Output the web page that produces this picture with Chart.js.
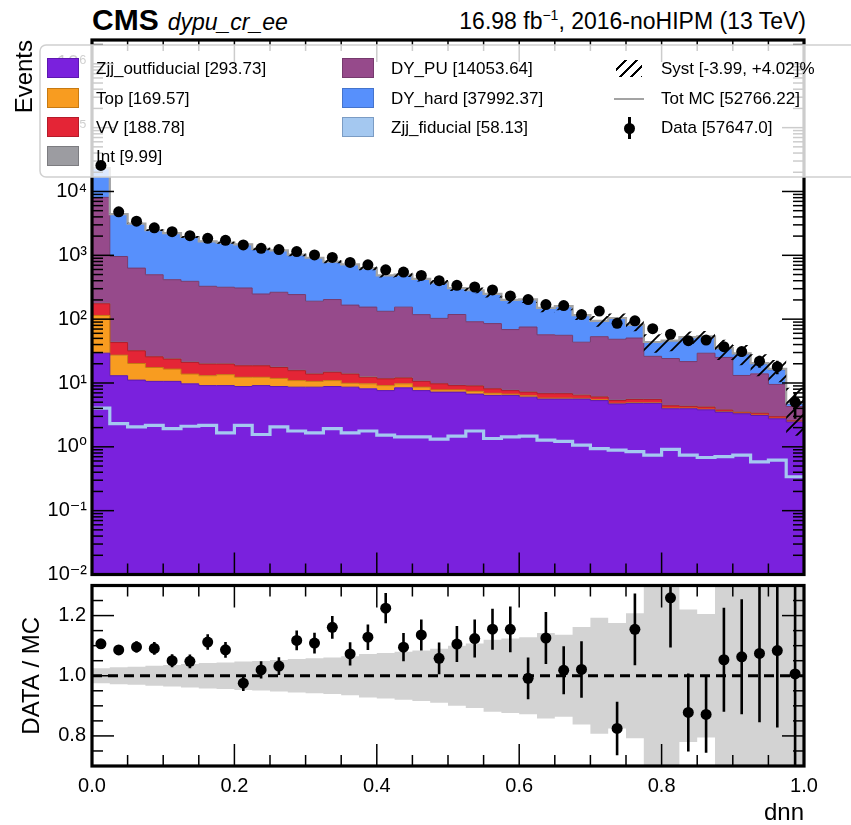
<!DOCTYPE html>
<html>
<head>
<meta charset="utf-8">
<script src="https://cdn.jsdelivr.net/npm/chart.js@4.4.1/dist/chart.umd.min.js"></script>
<style>
  html, body { margin: 0; padding: 0; background: #fff; }
  body { width: 851px; height: 825px; position: relative; overflow: hidden;
         font-family: "Liberation Sans", Arial, "DejaVu Sans", sans-serif; color: #000; }
  canvas { position: absolute; left: 0; }
  #main { top: 0; }
  #ratio { top: 580px; }
  #hdrL { position: absolute; left: 92px; top: 3px; white-space: nowrap; }
  #hdrL b { font-size: 30px; font-weight: bold; }
  #hdrL i { font-size: 23px; margin-left: 9px; }
  #hdrR { position: absolute; right: 45px; top: 7px; font-size: 23px; white-space: nowrap; }
  #hdrR sup { font-size: 14px; }
  /* box itself is painted on the canvas (under the data markers), this layer only holds text + glyphs */
  #legend { position: absolute; left: 40px; top: 45px; width: 860px; height: 132px; z-index: 5; font-size: 17px; }
  .item { position: absolute; height: 22px; line-height: 22px; white-space: nowrap; }
  .patch { position: absolute; top: 0; width: 32px; height: 20px; box-sizing: border-box; border: 1.5px solid; }
  .lbl { position: absolute; top: 0; }
</style>
</head>
<body>
<div id="hdrL"><b>CMS</b><i>dypu_cr_ee</i></div>
<div id="hdrR">16.98 fb<sup>−1</sup>, 2016-noHIPM (13 TeV)</div>
<canvas id="main" width="851" height="580"></canvas>
<canvas id="ratio" width="851" height="245"></canvas>
<div id="legend"></div>

<script>
// 40 bins in dnn, lower edges
const binLow = [0.000,0.025,0.050,0.075,0.100,0.125,0.150,0.175,0.200,0.225,
                0.250,0.275,0.300,0.325,0.350,0.375,0.400,0.425,0.450,0.475,
                0.500,0.525,0.550,0.575,0.600,0.625,0.650,0.675,0.700,0.725,
                0.750,0.775,0.800,0.825,0.850,0.875,0.900,0.925,0.950,0.975];

// stacked backgrounds (events per bin), bottom to top
const zjjOut = [29.3,13.0,11.1,10.6,10.6,9.7,9.1,9.1,8.8,9.1,8.8,8.6,8.6,8.8,8.6,8.1,7.6,8.4,7.6,7.2,
                7.2,6.7,6.4,6.4,6.0,5.6,5.6,5.6,5.3,4.7,4.8,4.8,3.95,3.95,3.8,3.5,3.3,3.1,2.75,2.45];
const topBkg = [85,14.3,9.1,6.9,5.9,4.1,3.9,4.4,3.5,3.2,3.0,2.3,2.0,2.1,1.3,1.6,1.5,1.3,1.0,0.6,
                0.6,0.7,0.5,0.3,0.3,0.2,0.2,0.15,0.15,0.12,0.12,0.1,0.1,0.1,0.1,0.08,0.08,0.06,0.06,0.05];
const vvBkg  = [60,15.7,11.7,8.2,7.2,7.2,6.8,6.3,6.3,6.3,5.7,4.7,3.2,3.8,3.9,2.6,2.5,2.3,2.0,1.9,
                1.3,1.6,1.2,0.9,0.9,1.0,1.0,0.7,0.6,0.5,0.6,0.6,0.35,0.25,0.3,0.2,0.1,0.2,0.15,0.05];
const intBkg = [3.5,0.6,0.45,0.4,0.35,0.3,0.3,0.28,0.26,0.25,0.24,0.22,0.2,0.2,0.18,0.17,0.16,0.15,0.14,0.13,
                0.12,0.12,0.11,0.1,0.1,0.09,0.09,0.08,0.08,0.07,0.07,0.06,0.06,0.05,0.05,0.05,0.04,0.04,0.03,0.03];
const dyPU   = [7900,915,598,470,391,370,307,296,289,229,246,227,177,188,152,142,121,142,107,93,
                109,82,77,61,68,50,49,37,47,43,45,20.6,19.7,17.3,25,21.3,9.6,10.5,6.5,1.7];
const dyHard = [15070,3460,2498,1977,1816,1544,1330,1264,1179,1015,926,780,723,592,553,473,350,343,307,274,
                187,191,162,130,128,92,103,71,40,55,30,17,21,30,24,9.3,15.3,6.0,6.5,0.35];
// signal drawn as a step line
const zjjFid = [4.05,2.31,2.05,2.17,1.93,2.1,2.17,1.65,2.17,1.56,2.05,1.77,1.65,1.93,1.65,1.77,1.52,1.43,1.43,1.32,
                1.47,1.77,1.35,1.43,1.47,1.27,1.22,1.06,0.94,0.89,0.84,0.74,0.91,0.74,0.68,0.7,0.74,0.58,0.62,0.34];
// observed data
const dataObs = [25610,4800,3430,2700,2345,2030,1845,1718,1452,1289,1230,1145,1015,925,773,710,593,546,484,400,
                 339,319,287,231,203,169,163,118,134,86,94,71,58,46,47,37,31,22,18,5];
// relative uncertainty of the MC per bin
const systRel = [0.025,0.028,0.03,0.033,0.036,0.039,0.042,0.044,0.047,0.049,0.052,0.056,0.058,0.061,0.065,0.072,0.076,0.08,0.084,0.09,
                 0.1,0.107,0.12,0.124,0.128,0.142,0.136,0.162,0.193,0.175,0.208,0.32,0.32,0.22,0.205,0.35,0.35,0.38,0.38,0.7];

// legend text as printed on the plot
const stackNames  = ['Zjj_outfiducial','Top','VV','Int','DY_PU','DY_hard'];
const stackYields = ['293.73','169.57','188.78','9.99','14053.64','37992.37'];
const stackColors = ['#7a21dd','#f89c20','#e42536','#9c9ca1','#964a8b','#5790fc'];
const stackEdges  = ['#5d17b0','#c77a12','#b51b2a','#7c7c80','#763a6d','#4574cc'];
const fidLabel = 'Zjj_fiducial [58.13]', fidColor = '#a4c8f0', fidEdge = '#7b9cc4';
const systLabel = 'Syst [-3.99, +4.02]%', totLabel = 'Tot MC [52766.22]', dataLabel = 'Data [57647.0]';

// tick positions
const mainYTicks  = [1e-2,1e-1,1e0,1e1,1e2,1e3,1e4,1e5,1e6];
const ratioYTicks = [0.8,1.0,1.2];
const xTicks      = [0,0.2,0.4,0.6,0.8,1.0];

const FONT = '"Liberation Sans", Arial, "DejaVu Sans", sans-serif';
Chart.defaults.font.family = FONT;
Chart.defaults.color = '#000';

const binW = 0.025;
const centers = binLow.map(x => x + binW / 2);
const steps = vals => binLow.map((x, i) => ({ x, y: vals[i] })).concat([{ x: 1, y: vals[vals.length - 1] }]);

const stackVals = [zjjOut, topBkg, vvBkg, intBkg, dyPU, dyHard];
const cum = [];
let run = binLow.map(() => 0);
stackVals.forEach(v => { run = run.map((s, i) => s + v[i]); cum.push(run); });
const totMC = run.map((s, i) => s + zjjFid[i]);

const supMap = { '-': '⁻', '0': '⁰', '1': '¹', '2': '²', '3': '³', '4': '⁴', '5': '⁵', '6': '⁶', '7': '⁷', '8': '⁸', '9': '⁹' };
const pow10 = v => '10' + String(Math.round(Math.log10(v))).split('').map(c => supMap[c]).join('');

// hatch pattern for the syst band
function hatch(size, lw) {
  const c = document.createElement('canvas');
  c.width = size; c.height = size;
  const g = c.getContext('2d');
  g.strokeStyle = '#000'; g.lineWidth = lw;
  g.beginPath();
  g.moveTo(0, size); g.lineTo(size, 0);
  g.moveTo(-2, 2); g.lineTo(2, -2);
  g.moveTo(size - 2, size + 2); g.lineTo(size + 2, size - 2);
  g.stroke();
  return g.createPattern(c, 'repeat');
}

// everything that sits between the histograms and the data markers:
// inward ticks on all sides, thick frame, and (main panel) the translucent legend box
const frameTicks = {
  id: 'frameTicks',
  beforeDatasetDraw(chart, args, o) {
    if (args.index !== o.dataIndex) return;
    const { ctx, chartArea: a } = chart;
    const xs = chart.scales.x, ys = chart.scales.y;
    ctx.save();
    ctx.strokeStyle = '#000';
    const seg = (x1, y1, x2, y2, w) => { ctx.lineWidth = w; ctx.beginPath(); ctx.moveTo(x1, y1); ctx.lineTo(x2, y2); ctx.stroke(); };
    const xt = (v, len) => { const p = xs.getPixelForValue(v); seg(p, a.bottom, p, a.bottom - len, 1.5); seg(p, a.top, p, a.top + len, 1.5); };
    const yt = (v, len) => { const p = ys.getPixelForValue(v); if (p < a.top - 0.5 || p > a.bottom + 0.5) return; seg(a.left, p, a.left + len, p, 1.5); seg(a.right, p, a.right - len, p, 1.5); };
    o.xMajor.forEach(v => xt(v, 22));
    o.xMinor.forEach(v => xt(v, 11));
    o.yMajor.forEach(v => yt(v, 22));
    o.yMinor.forEach(v => yt(v, 11));
    ctx.lineWidth = 3.2;
    ctx.strokeRect(a.left, a.top, a.right - a.left, a.bottom - a.top);
    if (o.legendBox) {
      const b = o.legendBox, r = 6;
      ctx.beginPath();
      ctx.moveTo(b.x + r, b.y);
      ctx.lineTo(b.x + b.w, b.y);
      ctx.lineTo(b.x + b.w, b.y + b.h);
      ctx.lineTo(b.x + r, b.y + b.h);
      ctx.arcTo(b.x, b.y + b.h, b.x, b.y + b.h - r, r);
      ctx.lineTo(b.x, b.y + r);
      ctx.arcTo(b.x, b.y, b.x + r, b.y, r);
      ctx.closePath();
      ctx.fillStyle = 'rgba(255,255,255,0.8)';
      ctx.fill();
      ctx.strokeStyle = '#d0d0d0'; ctx.lineWidth = 1.5;
      ctx.stroke();
    }
    ctx.restore();
  }
};

// vertical error bars drawn just before the data markers
const errBars = {
  id: 'errBars',
  beforeDatasetDraw(chart, args, o) {
    if (args.index !== o.index) return;
    const { ctx, chartArea: a } = chart;
    const xs = chart.scales.x, ys = chart.scales.y;
    ctx.save();
    ctx.beginPath(); ctx.rect(a.left, a.top, a.right - a.left, a.bottom - a.top); ctx.clip();
    ctx.strokeStyle = '#000'; ctx.lineWidth = 2.6;
    o.lo.forEach((lo, i) => {
      const x = xs.getPixelForValue(o.x[i]);
      ctx.beginPath();
      ctx.moveTo(x, ys.getPixelForValue(Math.max(lo, 1e-3)));
      ctx.lineTo(x, ys.getPixelForValue(o.hi[i]));
      ctx.stroke();
    });
    ctx.restore();
  }
};

const xMinor = [];
for (let k = 1; k < 20; k++) if (k % 4) xMinor.push(k * 0.05);

// ---------- main panel ----------
const mainSets = [];
stackNames.forEach((n, k) => {
  mainSets.push({
    label: n, data: steps(cum[k]), stepped: true, pointRadius: 0,
    borderColor: stackEdges[k], borderWidth: 1, backgroundColor: stackColors[k],
    fill: k === 0 ? 'start' : '-1', order: 10
  });
});
mainSets.push({ label: 'Zjj_fiducial', data: steps(zjjFid), stepped: true, pointRadius: 0,
  borderColor: fidColor, borderWidth: 3.2, fill: false, order: 6 });
mainSets.push({ label: 'Tot MC', data: steps(totMC), stepped: true, pointRadius: 0,
  borderColor: '#a3a3a3', borderWidth: 2.2, fill: false, order: 5 });
mainSets.push({ label: 'systLo', data: steps(totMC.map((t, i) => t * (1 - systRel[i]))), stepped: true,
  pointRadius: 0, borderWidth: 0, borderColor: 'rgba(0,0,0,0)', fill: false, order: 4 });
mainSets.push({ label: 'Syst', data: steps(totMC.map((t, i) => t * (1 + systRel[i]))), stepped: true,
  pointRadius: 0, borderWidth: 0, borderColor: 'rgba(0,0,0,0)', backgroundColor: hatch(14, 1.8), fill: '-1', order: 4 });
const dataIdx = mainSets.length;
mainSets.push({ label: 'Data', data: dataObs.map((d, i) => ({ x: centers[i], y: d })), showLine: false,
  pointRadius: 5.5, pointBackgroundColor: '#000', pointBorderWidth: 0, order: 1 });

const mainMinor = [];
for (let e = -2; e < 7; e++) for (let m = 2; m <= 9; m++) mainMinor.push(m * Math.pow(10, e));

new Chart(document.getElementById('main'), {
  type: 'line',
  data: { datasets: mainSets },
  options: {
    responsive: false, animation: false, events: [], devicePixelRatio: 1,
    layout: { padding: { left: 0, right: 47, top: 40, bottom: 0 } },
    plugins: {
      legend: { display: false }, tooltip: { enabled: false },
      frameTicks: { dataIndex: dataIdx, xMajor: xTicks, xMinor, yMajor: mainYTicks, yMinor: mainMinor,
                    legendBox: { x: 40, y: 45, w: 830, h: 132 } },
      errBars: { index: dataIdx, x: centers, lo: dataObs.map(d => d - Math.sqrt(d)), hi: dataObs.map(d => d + Math.sqrt(d)) }
    },
    scales: {
      x: { type: 'linear', min: 0, max: 1, grid: { display: false, drawTicks: false }, border: { display: false },
           ticks: { display: false }, afterFit: s => { s.height = 2; s.paddingLeft = 0; s.paddingRight = 0; } },
      y: { type: 'logarithmic', min: 1e-2, max: 2.36e6,
           grid: { display: false, drawTicks: false }, border: { display: false },
           afterBuildTicks: s => { s.ticks = mainYTicks.map(v => ({ value: v })); },
           ticks: { autoSkip: false, padding: 5, font: { size: 20 }, callback: v => pow10(v) },
           title: { display: true, text: 'Events', align: 'end', font: { size: 24 }, padding: { top: 11, bottom: 0 } },
           afterFit: s => { s.width = 92; s.paddingTop = 0; s.paddingBottom = 0; } }
    }
  },
  plugins: [frameTicks, errBars]
});

// ---------- ratio panel ----------
const ratio = dataObs.map((d, i) => d / totMC[i]);
const ratioErr = dataObs.map((d, i) => Math.sqrt(d) / totMC[i]);
const ratioMinor = [];
for (let k = 14; k <= 26; k++) if (k % 4 !== 0) ratioMinor.push(k * 0.05);

new Chart(document.getElementById('ratio'), {
  type: 'line',
  data: {
    datasets: [
      { label: 'bandLo', data: steps(systRel.map(s => 1 - s)), stepped: true, pointRadius: 0, borderWidth: 0,
        borderColor: 'rgba(0,0,0,0)', fill: false, order: 9 },
      { label: 'band', data: steps(systRel.map(s => 1 + s)), stepped: true, pointRadius: 0, borderWidth: 0,
        borderColor: 'rgba(0,0,0,0)', backgroundColor: '#d3d3d3', fill: '-1', order: 9 },
      { label: 'unity', data: [{ x: 0, y: 1 }, { x: 1, y: 1 }], pointRadius: 0, borderColor: '#000',
        borderWidth: 2.8, borderDash: [10, 6], fill: false, order: 5 },
      { label: 'Data/MC', data: ratio.map((r, i) => ({ x: centers[i], y: r })), showLine: false,
        pointRadius: 5.5, pointBackgroundColor: '#000', pointBorderWidth: 0, order: 1 }
    ]
  },
  options: {
    responsive: false, animation: false, events: [], devicePixelRatio: 1,
    layout: { padding: { left: 0, right: 47, top: 3, bottom: 0 } },
    plugins: {
      legend: { display: false }, tooltip: { enabled: false },
      frameTicks: { dataIndex: 3, xMajor: xTicks, xMinor, yMajor: ratioYTicks, yMinor: ratioMinor },
      errBars: { index: 3, x: centers, lo: ratio.map((r, i) => r - ratioErr[i]), hi: ratio.map((r, i) => r + ratioErr[i]) }
    },
    scales: {
      x: { type: 'linear', min: 0, max: 1, grid: { display: false, drawTicks: false }, border: { display: false },
           afterBuildTicks: s => { s.ticks = xTicks.map(v => ({ value: v })); },
           ticks: { autoSkip: false, maxRotation: 0, padding: 8, font: { size: 20 }, callback: v => Number(v).toFixed(1) },
           title: { display: true, text: 'dnn', align: 'end', font: { size: 24, lineHeight: 1 }, padding: { top: 0, bottom: 0 } },
           afterFit: s => { s.height = 59; s.paddingLeft = 0; s.paddingRight = 0; } },
      y: { type: 'linear', min: 0.7, max: 1.3,
           grid: { display: false, drawTicks: false }, border: { display: false },
           afterBuildTicks: s => { s.ticks = ratioYTicks.map(v => ({ value: v })); },
           ticks: { autoSkip: false, padding: 6, font: { size: 20 }, callback: v => Number(v).toFixed(1) },
           title: { display: true, text: 'DATA / MC', font: { size: 24 }, padding: { top: 18, bottom: 0 } },
           afterFit: s => { s.width = 92; s.paddingTop = 0; s.paddingBottom = 0; } }
    }
  },
  plugins: [frameTicks, errBars]
});

// ---------- legend text + glyphs (html overlay) ----------
const leg = document.getElementById('legend');
const rowY = [13, 43, 72, 101];
function addItem(col, row, glyph, text) {
  const colX = [[7, 56], [302, 351], [574, 621]][col];
  const d = document.createElement('div');
  d.className = 'item';
  d.style.left = colX[0] + 'px'; d.style.top = rowY[row] + 'px';
  d.appendChild(glyph);
  const t = document.createElement('span');
  t.className = 'lbl'; t.style.left = (colX[1] - colX[0]) + 'px'; t.textContent = text;
  d.appendChild(t);
  leg.appendChild(d);
}
function patch(fill, edge) {
  const p = document.createElement('div');
  p.className = 'patch'; p.style.background = fill; p.style.borderColor = edge;
  return p;
}
[0, 1, 2, 3].forEach(k => addItem(0, k, patch(stackColors[k], stackEdges[k]), stackNames[k] + ' [' + stackYields[k] + ']'));
[4, 5].forEach((k, r) => addItem(1, r, patch(stackColors[k], stackEdges[k]), stackNames[k] + ' [' + stackYields[k] + ']'));
addItem(1, 2, patch(fidColor, fidEdge), fidLabel);

const hg = document.createElement('div');
hg.style.cssText = 'position:absolute;top:2px;left:2px;width:26px;height:17px;' +
  'background:repeating-linear-gradient(135deg,transparent 0 6px,#000 6px 7.8px);';
addItem(2, 0, hg, systLabel);
const lg = document.createElement('div');
lg.style.cssText = 'position:absolute;top:10px;left:0;width:30px;height:2px;background:#a3a3a3;';
addItem(2, 1, lg, totLabel);
const dg = document.createElement('div');
dg.style.cssText = 'position:absolute;top:0;left:0;width:30px;height:22px;';
dg.innerHTML = '<div style="position:absolute;left:14px;top:0;width:2.5px;height:22px;background:#000"></div>' +
  '<div style="position:absolute;left:10px;top:6px;width:11px;height:11px;border-radius:50%;background:#000"></div>';
addItem(2, 2, dg, dataLabel);
</script>
</body>
</html>
